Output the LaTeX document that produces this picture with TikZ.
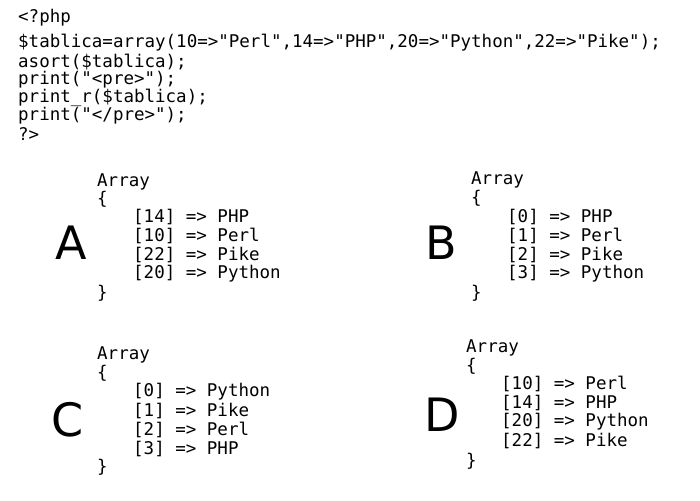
\documentclass[tikz,border=0pt]{standalone}
\usepackage{fontspec}
\newfontfamily\codefont{DejaVu Sans Mono}
\newfontfamily\letfont{DejaVu Sans}
\begin{document}
\begin{tikzpicture}[x=1pt,y=-1pt,
  code/.style={anchor=west,inner sep=0pt,font=\codefont\fontsize{17.5}{18}\selectfont},
  letter/.style={anchor=center,inner sep=0pt,font=\letfont\fontsize{46}{48}\selectfont}]
\useasboundingbox (0,0) rectangle (700,500);
\node[code] (l1) at (18,18) {<?php};
\node[code] (l2) at (18,43) {\$tablica=array(10=>"Perl",14=>"PHP",20=>"Python",22=>"Pike");};
\node[code] (l3) at (18,62) {asort(\$tablica);};
\node[code] (l4) at (18,80) {print("<pre>");};
\node[code] (l5) at (18,98) {print\_r(\$tablica);};
\node[code] (l6) at (18,116) {print("</pre>");};
\node[code] (l7) at (18,134) {?>};
% A
\node[letter] (A) at (71,243) {A};
\node[code] (aa) at (97,182) {Array};
\node[code] (ab) at (97,199) {\{};
\node[code] (a1) at (133,217) {[14] => PHP};
\node[code] (a2) at (133,236) {[10] => Perl};
\node[code] (a3) at (133,255) {[22] => Pike};
\node[code] (a4) at (133,274) {[20] => Python};
\node[code] (ac) at (97,293) {\}};
% B
\node[letter] (B) at (441,243) {B};
\node[code] (ba) at (471,180) {Array};
\node[code] (bb) at (471,198) {\{};
\node[code] (b1) at (507,217) {[0] => PHP};
\node[code] (b2) at (507,236) {[1] => Perl};
\node[code] (b3) at (507,255) {[2] => Pike};
\node[code] (b4) at (507,274) {[3] => Python};
\node[code] (bc) at (471,293) {\}};
% C
\node[letter] (C) at (68,420) {C};
\node[code] (ca) at (97,355) {Array};
\node[code] (cb) at (97,373) {\{};
\node[code] (c1) at (133,392) {[0] => Python};
\node[code] (c2) at (133,411) {[1] => Pike};
\node[code] (c3) at (133,430) {[2] => Perl};
\node[code] (c4) at (133,449) {[3] => PHP};
\node[code] (cc) at (97,467) {\}};
% D
\node[letter] (D) at (442,415) {D};
\node[code] (da) at (466,348) {Array};
\node[code] (db) at (466,366) {\{};
\node[code] (d1) at (501,384) {[10] => Perl};
\node[code] (d2) at (501,403) {[14] => PHP};
\node[code] (d3) at (501,422) {[20] => Python};
\node[code] (d4) at (501,441) {[22] => Pike};
\node[code] (dc) at (466,461) {\}};
\end{tikzpicture}
\end{document}
